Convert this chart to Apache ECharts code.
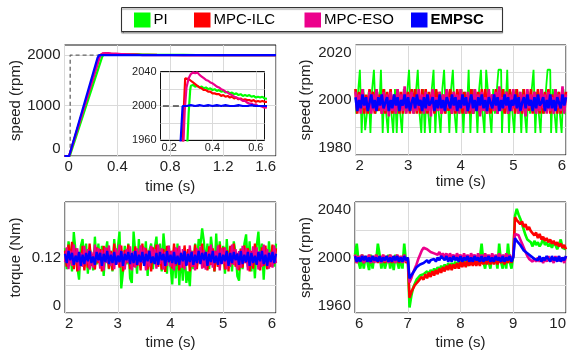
<!DOCTYPE html>
<html><head><meta charset="utf-8">
<script src="https://cdn.jsdelivr.net/npm/echarts@6/dist/echarts.min.js"></script>
<style>html,body{margin:0;padding:0;background:#fff}#c{width:570px;height:351px}</style>
</head><body><div id="c"></div>
<script>
// ---------- names / colours ----------
const methodNames = ['PI', 'MPC-ILC', 'MPC-ESO', 'EMPSC'];
const methodColors = ['#00ff00', '#ff0000', '#ec008c', '#0000ff'];

// ---------- panel 1: start-up (time s, speed rpm) ----------
const refT = [0, 0.043, 0.043, 1.6];
const refV = [0, 0, 2000, 2000];

const stPI_t = [0,0.04,0.283,0.29,0.297,0.30,0.31,0.32,0.33,0.34,0.35,0.36,0.37,0.38,0.39,0.40,0.41,0.42,0.43,0.44,0.45,0.46,0.47,0.48,0.49,0.50,0.51,0.52,0.53,0.54,0.55,0.56,0.57,0.58,0.59,0.60,0.61,0.62,0.63,0.64,0.70,0.80,0.90,1.0,1.2,1.4,1.6];
const stPI_v = [0,0,1950,1992,2019,2024,2025,2023,2024,2022,2023,2021,2022,2020,2021,2019,2020,2018,2019,2017,2018,2016,2017,2015,2016,2014,2015,2013,2014,2012,2013,2012,2013,2011,2012,2010,2011,2010,2011,2009,2007,2004,2003,2002,2001,2000,2000];

const stILC_t = [0,0.035,0.262,0.268,0.274,0.28,0.29,0.30,0.31,0.32,0.33,0.34,0.35,0.36,0.37,0.38,0.39,0.40,0.41,0.42,0.43,0.44,0.45,0.46,0.47,0.48,0.49,0.50,0.51,0.52,0.53,0.54,0.55,0.56,0.57,0.58,0.59,0.60,0.61,0.62,0.63,0.64,0.70,0.80,0.90,1.0,1.2,1.4,1.6];
const stILC_v = [0,0,1950,2000,2033,2035,2032,2030,2028,2026,2024,2022,2021,2019,2019,2017,2017,2015,2015,2014,2014,2012,2013,2011,2012,2010,2011,2009,2010,2008,2009,2007,2008,2007,2007,2006,2007,2005,2006,2005,2006,2005,2004,2002,2001,2001,2000,2000,2000];

const stESO_t = [0,0.035,0.265,0.272,0.28,0.29,0.30,0.31,0.32,0.33,0.34,0.35,0.36,0.37,0.38,0.39,0.40,0.41,0.42,0.43,0.44,0.45,0.46,0.47,0.48,0.49,0.50,0.51,0.52,0.53,0.54,0.55,0.56,0.57,0.58,0.59,0.60,0.61,0.62,0.63,0.64,0.70,0.80,0.90,1.0,1.2,1.4,1.6];
const stESO_v = [0,0,1950,1995,2022,2033,2038,2040,2039,2040,2037,2035,2033,2031,2030,2028,2027,2025,2023,2022,2020,2019,2017,2016,2014,2013,2011,2010,2009,2008,2006,2006,2004,2003,2003,2001,2002,2000,2000,1999,1998,1999,2000,2000,2000,2000,2000,2000];

const stEMPSC_t = [0,0.035,0.25,0.262,0.27,0.28,0.30,0.32,0.34,0.36,0.38,0.40,0.42,0.44,0.46,0.48,0.50,0.52,0.54,0.56,0.58,0.60,0.62,0.64,0.8,1.0,1.2,1.4,1.6];
const stEMPSC_v = [0,0,1945,2000,2001,2000,2001,2000,2001,2000,2001,2000,2001,2000,2001,2000,2000,2001,2000,2000,2001,2000,2000,2000,2000,2000,2000,2000,2000];

// ---------- sampled records (one sample every 1/30 s) ----------
const SAMPLE_DT = 1 / 30;
const SPEED_REF = 2000;   // rpm
const TORQUE_REF = 0.12;  // Nm
const TORQUE_UNIT = 0.001; // deviations below are in mNm

// panel 2: steady speed 2-6 s, deviation from 2000 rpm
const ssPI = [
4,-5,3,11,-12,4,-11,-5,3,-12,
4,11,-5,3,-4,11,-12,4,-5,-12,
3,-5,-12,4,-12,3,-5,-12,4,-5,
3,11,-4,4,-5,3,11,-5,-12,4,
-12,3,-5,-12,4,11,-12,3,-5,-12,
4,11,-5,3,-12,4,11,-5,-12,3,
-5,4,-12,3,-5,11,-12,4,-5,3,
-12,4,11,-5,-12,11,3,-5,-12,4,
-5,3,11,11,-12,4,-5,11,-12,3,
-5,-12,4,-5,3,-12,4,-5,-12,3,
-5,4,11,-12,3,-5,-12,4,-5,3,
11,11,-12,4,-5,-12,3,-5,-12,4,
-5];
const ssILC = [
4,-5,3,-4,4,-5,2,-5,4,-3,
3,-5,4,-4,2,-5,4,-5,3,-4,
4,-5,2,-4,4,-5,3,-5,4,-4,
3,-5,4,-3,4,-5,2,-5,4,-4,
4,-5,3,-4,4,-5,4,-4,3,-5,
2,-5,4,-4,4,-5,3,-5,4,-3,
4,-5,3,-4,2,-5,4,-5,4,-4,
3,-5,4,-4,4,-5,3,-5,2,-4,
4,-5,4,-3,4,-5,3,-5,4,-4,
3,-5,4,-4,2,-5,4,-5,3,-4,
4,-5,3,-4,4,-5,4,-5,3,-4,
4,-5,2,-4,4,-5,3,-5,4,-4,
3];
const ssESO = [
3,-4,2,-5,4,-3,1,-4,3,-5,
2,-4,4,-3,1,-5,3,-4,2,-6,
3,-4,1,-5,4,-3,2,-4,5,-5,
2,-3,3,-5,1,-4,4,-3,2,-5,
3,-4,2,-6,4,-3,1,-4,3,-5,
2,-4,4,-3,1,-5,3,-4,2,-5,
4,-3,1,-5,3,-4,2,-5,4,-3,
2,-6,3,-4,1,-5,4,-3,2,-4,
3,-5,5,-4,1,-3,3,-5,2,-4,
4,-3,1,-5,3,-4,2,-6,4,-3,
2,-4,3,-5,1,-4,4,-3,2,-5,
3,-4,1,-5,4,-3,2,-4,5,-5,
2];
const ssEMPSC = [
1,-4,0,-3,2,-2,1,-4,-1,2,
-3,0,-4,1,-2,2,-3,-1,1,-4,
0,-3,2,-2,1,-4,0,-2,2,-3,
1,-4,-1,1,-3,2,-2,0,-4,1,
-3,2,-2,-1,1,-4,0,-3,2,-3,
0,-4,1,-1,-3,2,-2,1,-4,0,
-3,2,-2,1,-4,-1,2,-3,0,-4,
1,-2,2,-3,0,-4,1,-1,-3,2,
-2,1,-4,0,-3,2,-2,1,-4,0,
-2,2,-3,1,-4,-1,1,-3,2,-2,
0,-4,1,-3,2,-2,-1,1,-4,0,
-3,2,-3,0,-4,1,-1,-3,2,-2,
1];

// panel 3: torque 2-6 s, deviation from 0.12 Nm in mNm
const tqPI = [
20,-25,35,10,-30,55,15,-20,-48,25,
40,-10,30,-35,20,5,-28,45,-15,30,
-20,25,-40,10,35,-25,15,-30,40,-10,
20,56,-67,-30,25,-15,30,-45,-55,56,
10,-35,40,-20,25,-10,35,-40,15,30,
-25,20,45,-15,30,-30,52,10,-35,25,
-20,-58,15,-45,30,-60,10,-50,20,-55,
-30,-62,15,-25,30,-20,40,25,63,35,
-15,30,-25,45,10,-30,52,-20,35,-10,
25,-35,40,-15,20,-30,35,10,-40,-50,
20,-25,30,50,-20,35,-30,15,-45,25,
56,-10,30,-48,20,-25,35,-15,25,-20,
30];
const tqILC = [
15,-20,28,-10,34,-25,20,-30,10,-15,
25,-28,12,-22,30,-18,8,-26,22,-12,
18,-30,25,-8,20,-24,14,-28,30,-16,
10,-22,26,-30,16,-12,28,-25,6,-20,
24,-18,12,-28,30,-10,20,-26,15,-30,
22,-14,28,-20,10,-26,18,-31,25,-8,
14,-24,30,-18,20,-28,8,-22,26,-15,
18,-30,12,-20,28,-25,16,-12,30,-22,
10,-28,24,-16,20,-30,14,-20,28,-10,
22,-26,16,-30,25,-14,30,-20,10,-28,
18,-22,26,-12,20,-30,14,-24,30,-16,
12,-28,22,-18,26,-25,10,-20,28,-14,
20];
const tqESO = [
-10,22,-25,15,-18,28,-12,20,-28,10,
-20,25,-15,18,-26,12,-22,28,-8,20,
-24,16,-28,22,-12,26,-18,10,-25,20,
-15,28,-20,12,-26,18,-10,24,-28,14,
-22,20,-16,26,-12,22,-28,15,-20,25,
-8,18,-24,28,-14,20,-26,12,-18,26,
-20,15,-28,22,-10,25,-22,18,-26,10,
-16,26,-20,14,-28,20,-12,24,-24,16,
-26,12,-18,28,-22,15,-10,26,-28,20,
-14,22,-25,10,-20,28,-16,18,-26,14,
-22,25,-12,20,-28,16,-18,24,-10,22,
-26,14,-20,28,-15,18,-24,12,-22,26,
-12];
const tqEMPSC = [
8,-12,14,-6,10,-16,4,-10,12,-18,
6,-14,10,-8,14,-12,2,-16,12,-6,
10,-18,8,-10,14,-14,6,-12,12,-16,
4,-10,14,-18,8,-6,12,-14,10,-12,
14,-16,6,-10,12,-18,8,-8,14,-12,
2,-14,10,-16,12,-6,8,-18,14,-10,
6,-12,12,-14,4,-16,10,-8,14,-18,
8,-10,12,-16,6,-12,14,-14,10,-6,
12,-18,8,-10,14,-12,4,-16,10,-14,
6,-8,14,-18,10,-12,12,-6,8,-16,
14,-14,6,-10,12,-18,10,-12,4,-16,
12,-8,14,-14,6,-18,10,-10,12,-12,
8];

// panel 4: load steps 6-10 s, deviation from 2000 rpm
const ldPI = [
2,10,-3,-8,2,-8,1,-3,-9,2,
-8,1,-3,10,2,-8,1,-8,-3,2,
-8,1,-9,2,-3,-8,1,-8,10,-3,
0,-36,-28,-22,-19,-16,-15,-13,-14,-12,
-13,-10,-12,-9,-11,-8,-10,-7,-9,-6,
-8,-5,-8,-4,-7,-4,-7,-3,-6,-3,
-6,-2,-5,-2,-6,-1,-5,-2,-5,-1,
-5,-1,10,-3,-8,2,-3,-8,2,-4,
1,-8,10,-3,-8,2,-8,10,-3,-8,
2,30,35,31,28,24,20,16,13,12,
11,8,12,9,11,8,10,14,9,11,
8,10,7,11,9,6,9,13,7,8,
6];
const ldILC = [
2,-4,1,-3,2,-4,1,-3,2,-4,
1,-3,2,-4,1,-3,2,-4,1,-3,
2,-4,1,-3,2,-4,1,-3,2,-4,
0,-29,-25,-24,-20,-20,-17,-18,-14,-16,
-12,-15,-11,-14,-10,-13,-9,-12,-8,-11,
-7,-10,-6,-9,-5,-9,-5,-8,-4,-8,
-3,-7,-3,-7,-2,-6,-2,-6,-2,-6,
-1,-6,-1,-5,-1,-5,0,-5,-1,-5,
0,-5,0,-4,0,-5,0,-4,1,-4,
1,29,27,28,24,26,22,24,20,22,
19,20,16,18,14,17,13,15,12,14,
11,13,10,12,9,11,8,10,7,9,
6];
const ldESO = [
2,-4,1,-3,2,-4,0,-3,2,-4,
1,-4,2,-3,0,-4,2,-3,1,-4,
2,-3,0,-4,2,-3,1,-4,2,-3,
0,-18,-15,-11,-8,-5,-1,2,5,7,
8,6,7,4,5,3,4,2,4,1,
3,0,3,-1,3,0,2,-1,3,0,
2,-2,3,-1,2,-2,3,0,2,-2,
3,-1,2,-2,3,-1,2,-2,3,-1,
2,-2,3,-1,2,-2,3,-1,2,-2,
1,17,18,16,13,10,7,4,1,-1,
-2,-3,-1,-3,0,-3,-1,-4,0,-3,
1,-3,0,-4,1,-3,1,-3,0,-4,
1];
const ldEMPSC = [
1,-3,0,-3,1,-2,1,-3,0,-3,
1,-2,0,-3,1,-3,0,-2,1,-3,
0,-3,1,-2,1,-3,0,-3,1,-2,
0,-15,-13,-11,-9,-7,-7,-5,-5,-4,
-4,-2,-4,-2,-3,-1,-3,0,-2,1,
0,-2,1,-3,0,-3,1,-2,0,-3,
1,-3,0,-2,1,-3,0,-3,1,-2,
0,-3,1,-3,0,-2,1,-3,0,-3,
1,-2,0,-3,1,-3,0,-2,1,-3,
0,14,12,11,9,8,5,5,3,3,
1,1,-1,0,-2,1,-3,0,-2,1,
0,-3,1,-2,0,-3,1,-3,0,-2,
1];

// ---------- ticks / labels ----------
const stTicksX = [0, 0.4, 0.8, 1.2, 1.6];
const stTicksY = [0, 1000, 2000];
const insetTicksX = [0.2, 0.4, 0.6];
const insetGridY = [1960, 1980, 2000, 2020, 2040];
const insetLabelsY = [1960, 2000, 2040];
const ssTicksX = [2, 3, 4, 5, 6];
const ssGridY = [1980, 1990, 2000, 2010, 2020];
const ssLabelsY = [1980, 2000, 2020];
const tqGridY = [0, 0.06, 0.12, 0.18, 0.24];
const tqLabelsY = [0, 0.12];
const ldTicksX = [6, 7, 8, 9, 10];
const ldGridY = [1960, 1980, 2000, 2020, 2040];
const ldLabelsY = [1960, 2000, 2040];

// ---------- build ----------
const FONT = "'Liberation Sans', Arial, Helvetica, sans-serif";
const TXT = '#222';
function pairs(t, v) { const n = Math.min(t.length, v.length), o = []; for (let i = 0; i < n; i++) o.push([t[i], v[i]]); return o; }
function sampled(start, devs, ref, unit) { return devs.map((d, i) => [start + i * SAMPLE_DT, ref + d * unit]); }
const fmt = v => String(v);

function xAx(grid, min, max, ticks, labels, opt) {
  opt = opt || {};
  return {
    type: 'value', gridIndex: grid, min: min, max: max, z: opt.z || 0,
    axisLine: { show: false }, axisTick: { show: false, customValues: ticks },
    splitLine: { show: true, lineStyle: { color: '#dadada', width: 1 } },
    axisLabel: Object.assign({ customValues: labels, formatter: fmt, fontSize: opt.fs || 15, fontFamily: FONT, color: TXT, margin: opt.margin != null ? opt.margin : 3 }, opt.label || {}),
    name: opt.name || '', nameLocation: 'middle', nameGap: opt.nameGap || 24,
    nameTextStyle: { fontSize: 15, fontFamily: FONT, color: TXT }
  };
}
function yAx(grid, min, max, ticks, labels, opt) {
  opt = opt || {};
  return {
    type: 'value', gridIndex: grid, min: min, max: max, z: opt.z || 0,
    axisLine: { show: false }, axisTick: { show: false, customValues: ticks },
    splitLine: { show: true, lineStyle: { color: '#dadada', width: 1 } },
    axisLabel: Object.assign({ customValues: labels, formatter: fmt, fontSize: opt.fs || 15, fontFamily: FONT, color: TXT, margin: opt.margin != null ? opt.margin : 4 }, opt.label || {}),
    name: opt.name || '', nameLocation: 'middle', nameGap: opt.nameGap || 40,
    nameTextStyle: { fontSize: 15, fontFamily: FONT, color: TXT }
  };
}

const gridBase = { show: true, borderColor: '#111', borderWidth: 1, backgroundColor: '#fff', containLabel: false };
const grids = [
  Object.assign({}, gridBase, { left: 64.5, top: 45, width: 211.5, height: 111 }),
  Object.assign({}, gridBase, { left: 355.5, top: 45, width: 210.5, height: 110 }),
  Object.assign({}, gridBase, { left: 65, top: 202, width: 211, height: 111 }),
  Object.assign({}, gridBase, { left: 355, top: 202, width: 211, height: 111 }),
  Object.assign({}, gridBase, { left: 160.5, top: 71.5, width: 104, height: 69, z: 10 })
];

const xAxes = [
  xAx(0, 0, 1.6, stTicksX, stTicksX, { name: 'time (s)', nameGap: 23, label: { alignMinLabel: 'left', alignMaxLabel: 'right' } }),
  xAx(1, 2, 6, ssTicksX, ssTicksX, { name: 'time (s)', nameGap: 17, label: { alignMinLabel: 'left', alignMaxLabel: 'right' } }),
  xAx(2, 2, 6, ssTicksX, ssTicksX, { name: 'time (s)', nameGap: 22, label: { alignMinLabel: 'left', alignMaxLabel: 'right' } }),
  xAx(3, 6, 10, ldTicksX, ldTicksX, { name: 'time (s)', nameGap: 22, label: { alignMinLabel: 'left', alignMaxLabel: 'right' } }),
  xAx(4, 0.16, 0.64, insetTicksX, insetTicksX, { fs: 11, z: 11, margin: 2 })
];
const yAxes = [
  yAx(0, 0, 2200, stTicksY, stTicksY, { name: 'speed (rpm)', nameGap: 40, label: { verticalAlignMinLabel: 'bottom' } }),
  yAx(1, 1980, 2020, ssGridY, ssLabelsY, { name: 'speed (rpm)', nameGap: 42, label: { verticalAlignMinLabel: 'bottom', verticalAlignMaxLabel: 'top' } }),
  yAx(2, 0, 0.24, tqGridY, tqLabelsY, { name: 'torque (Nm)', nameGap: 42, label: { verticalAlignMinLabel: 'bottom' } }),
  yAx(3, 1960, 2040, ldGridY, ldLabelsY, { name: 'speed (rpm)', nameGap: 42, label: { verticalAlignMinLabel: 'bottom', verticalAlignMaxLabel: 'top' } }),
  yAx(4, 1959, 2041, insetGridY, insetLabelsY, { fs: 11, z: 11, margin: 4 })
];

const startData = [pairs(stPI_t, stPI_v), pairs(stILC_t, stILC_v), pairs(stESO_t, stESO_v), pairs(stEMPSC_t, stEMPSC_v)];
const ssData = [ssPI, ssILC, ssESO, ssEMPSC].map(d => sampled(2, d, SPEED_REF, 1));
const tqData = [tqPI, tqILC, tqESO, tqEMPSC].map(d => sampled(2, d, TORQUE_REF, TORQUE_UNIT));
const ldData = [ldPI, ldILC, ldESO, ldEMPSC].map(d => sampled(6, d, SPEED_REF, 1));

const series = [];
function line(name, color, data, ax, width, z, extra) {
  return Object.assign({ type: 'line', name: name, data: data, xAxisIndex: ax, yAxisIndex: ax, symbol: 'none', showSymbol: false,
    lineStyle: { color: color, width: width }, itemStyle: { color: color }, z: z, silent: true, clip: true }, extra || {});
}
const refData = pairs(refT, refV);
series.push(line('ref', '#666', refData, 0, 1.3, 2, { lineStyle: { color: '#666', width: 1.3, type: [4, 3] } }));
series.push(line('ref', '#444', refData, 4, 1.5, 12, { lineStyle: { color: '#444', width: 1.5, type: [6, 4] } }));
for (let k = 0; k < 4; k++) {
  const stepPI = k === 0 ? { step: 'middle' } : {};
  series.push(line(methodNames[k], methodColors[k], startData[k], 0, 2.2, 3));
  series.push(line(methodNames[k], methodColors[k], startData[k], 4, 2.2, 13));
  series.push(line(methodNames[k], methodColors[k], ssData[k], 1, k === 0 ? 1.8 : 2.6, 3, stepPI));
  series.push(line(methodNames[k], methodColors[k], tqData[k], 2, 2.3, 3));
  series.push(line(methodNames[k], methodColors[k], ldData[k], 3, 2.6, 3));
}

const legendLefts = [134, 194, 304.5, 411];
const legends = methodNames.map((n, i) => ({
  data: [n], left: legendLefts[i], top: 12.5, orient: 'horizontal', padding: 0, itemGap: 0,
  itemWidth: 16.5, itemHeight: 15, icon: 'rect', selectedMode: false, z: 20,
  textStyle: { fontSize: 15, fontFamily: FONT, color: '#000', fontWeight: i === 3 ? 'bold' : 'normal', padding: [0, 0, 0, -2] }
}));

const chart = echarts.init(document.getElementById('c'), null, { renderer: 'canvas' });
chart.setOption({
  animation: false,
  backgroundColor: '#fff',
  grid: grids,
  xAxis: xAxes,
  yAxis: yAxes,
  legend: legends,
  graphic: [{
    type: 'rect', z: 15, silent: true,
    shape: { x: 121.5, y: 7.5, width: 381, height: 24 },
    style: { fill: '#fff', stroke: '#333', lineWidth: 1, shadowColor: 'rgba(0,0,0,0.45)', shadowBlur: 1, shadowOffsetY: 1.5 }
  }],
  series: series
});
</script>
</body></html>
